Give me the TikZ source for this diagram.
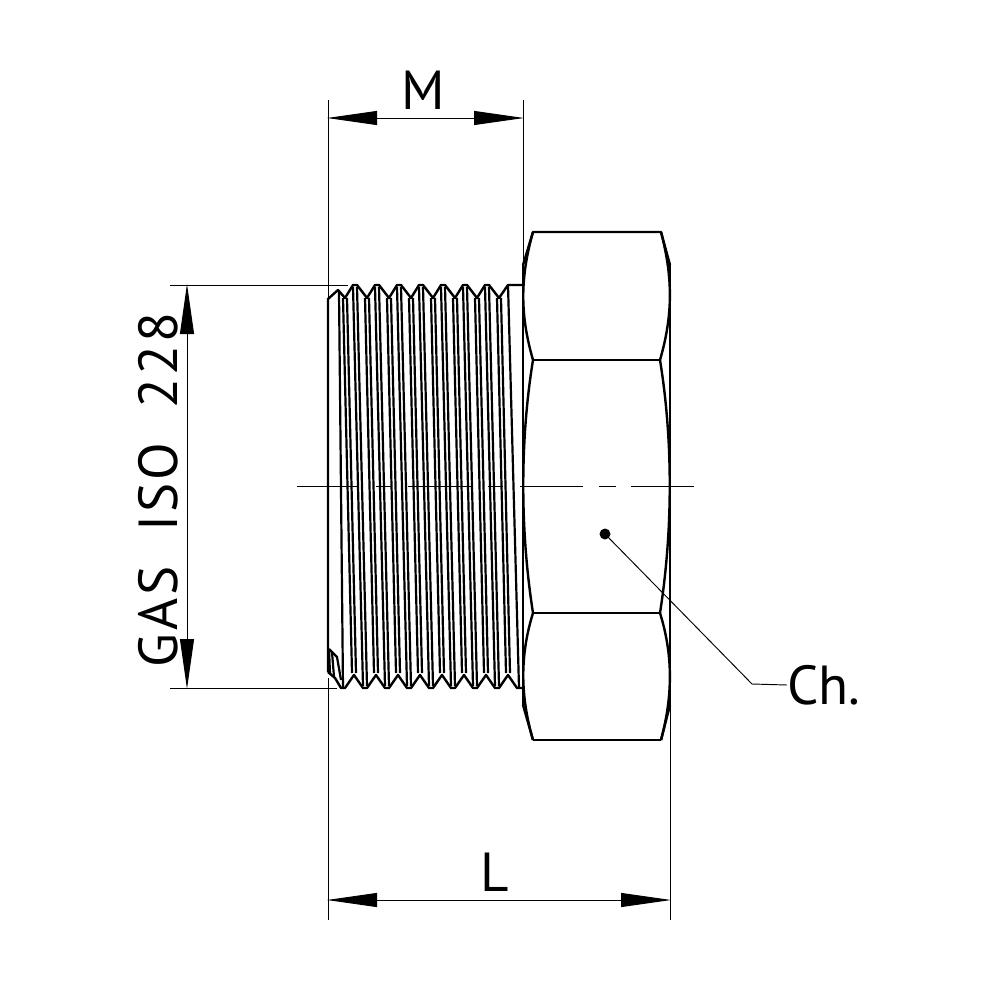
\documentclass[tikz,border=0pt]{standalone}
\usepackage{fontspec}
\setmainfont{PT Sans}
\usetikzlibrary{arrows.meta}

\tikzset{
    outline/.style={line width=2.4pt,line join=round},
    flank/.style={line width=2.2pt},
    thin line/.style={line width=0.95pt},
    dim line/.style={line width=0.95pt,{Triangle[length=50pt,width=14pt]}-{Triangle[length=50pt,width=14pt]}},
    dim label/.style={font=\fontsize{55}{55}\selectfont,inner sep=0pt}
}

\begin{document}
\begin{tikzpicture}[x=1pt,y=-1pt]

\useasboundingbox (0,0) rectangle (1000,1000);

% Thread top profile.
\draw[outline]
    (328,672) -- (328,299) -- (338,290) -- (345,298)
    \foreach \k in {0,...,6} {
        -- ({353+22*\k},285) -- ({357+22*\k},285) -- ({367+22*\k},298)
    }
    -- (508,285) -- (523,285);

% Thread bottom profile.
\draw[outline]
    (328,672) -- (335,678) -- (341,688) -- (345,688) -- (354,675)
    \foreach \k in {1,...,7} {
        -- ({341+22*\k},688) -- ({345+22*\k},688) -- ({354+22*\k},675)
    }
    -- (517,688) -- (523,688);

% Loop for the flank lines of each turn.
\foreach \k in {0,...,7} {
    \draw[flank] ({345+22*\k-2},298) -- ({354+22*\k-2},673);
    \draw[flank] ({345+22*\k+2},298) -- ({354+22*\k+2},673);
}
\foreach \k in {0,...,6} {
    \draw[flank] ({355+22*\k-2},287) -- ({365+22*\k-2},686);
    \draw[flank] ({355+22*\k+2},287) -- ({365+22*\k+2},686);
}

% First and last turn.
\draw[flank] (339,292) -- (343,688);
\draw[flank] (508,285) -- (519,688);

% Lead-in chamfer at lower left.
\draw[flank] (329,649) -- (337,657) -- (341,680);
\draw[flank] (332,652) -- (334,677);
\draw[flank] (329,649) -- (330,674);

% Hexagon body, outer edges.
\draw[outline] (523,265) -- (523,705);
\draw[outline] (670,265) -- (670,705);

% Hexagon upper face.
\draw[outline]
    (523,265) -- (533,232) -- (661,232) -- (670,265);
\draw[outline]
    (533,360) .. controls (520,315) and (520,278) .. (533,232);
\draw[outline]
    (661,232) .. controls (673,278) and (673,315) .. (660,360);
\draw[outline] (533,360) -- (660,360);

% Hexagon middle face.
\draw[outline]
    (533,360) .. controls (520,440) and (520,530) .. (533,613);
\draw[outline]
    (660,360) .. controls (673,440) and (673,530) .. (660,613);
\draw[outline] (533,613) -- (660,613);

% Hexagon lower face.
\draw[outline]
    (533,613) .. controls (520,655) and (520,695) .. (533,740);
\draw[outline]
    (660,613) .. controls (673,655) and (673,695) .. (661,740);
\draw[outline] (533,740) -- (661,740);
\draw[outline] (523,705) -- (533,740);
\draw[outline] (670,705) -- (661,740);

% Centre line.
\draw[thin line,dash pattern=on 61pt off 18pt on 16pt off 16pt on 64pt off 16pt on 15pt off 17pt on 63pt off 16pt on 17pt off 15pt on 63pt]
    (297,486) -- (695,486);

% Extension lines.
\coordinate (mleft) at (327,118);
\coordinate (mright) at (524,118);
\coordinate (lleft) at (327,900);
\coordinate (lright) at (671,900);
\coordinate (gastop) at (187,284);
\coordinate (gasbot) at (187,689);
\draw[thin line] (328,100) -- (328,299);
\draw[thin line] (523,100) -- (523,285);
\draw[thin line] (328,678) -- (328,920);
\draw[thin line] (670,705) -- (670,920);
\draw[thin line] (170,285) -- (348,285);
\draw[thin line] (170,688) -- (337,688);

% Dimension lines.
\draw[dim line] (mleft) -- (mright);
\draw[dim line] (lleft) -- (lright);
\draw[dim line] (gastop) -- (gasbot);

% Labels.
\node[dim label] (mlabel) at (423,90) {M};
\node[dim label] (llabel) at (495,872) {L};
\node[dim label,rotate=90] (gaslabel) at (158,490) {\addfontfeature{LetterSpace=5}GAS\ \ ISO\ \ 228};
\node[dim label,anchor=west] (chlabel) at (787,685) {Ch.};

% Leader for the across flats.
\node[circle,fill=black,inner sep=0pt,minimum size=11pt] (chdot) at (605,534) {};
\draw[thin line] (chdot.center) -- (752,684) coordinate (chbend) -- (chlabel.west);

\end{tikzpicture}
\end{document}
